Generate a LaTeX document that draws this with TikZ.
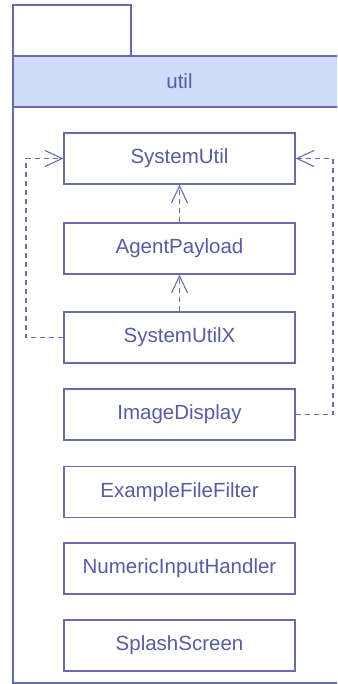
\documentclass[tikz,border=0pt]{standalone}
\usepackage{fontspec}
\setmainfont{Liberation Sans}
\usetikzlibrary{arrows.meta}
\definecolor{umlline}{RGB}{104,108,170}
\definecolor{umltext}{RGB}{88,92,160}
\definecolor{hdrfill}{RGB}{207,220,250}
\tikzset{
  cls/.style={draw=umlline, line width=1.3pt, fill=white, minimum width=231pt, minimum height=51pt, inner sep=0pt, text=umltext, font=\fontsize{20.5}{22}\selectfont},
  dep/.style={draw=umlline, line width=1.1pt, dash pattern=on 5pt off 4pt, -{Straight Barb[length=17pt,width=16pt,line width=1.1pt]}},
  frame/.style={draw=umlline, line width=1.3pt}
}
\begin{document}
\begin{tikzpicture}[x=1pt,y=-1pt]
\useasboundingbox (0,0) rectangle (337,684);
\clip (0,0) rectangle (337,684);
% package frame
\draw[frame] (13,107) rectangle (345,683);
\draw[frame, fill=white] (13,5) rectangle (131,56);
\draw[frame, fill=hdrfill] (13,56) rectangle (345,107);
\node[text=umltext, font=\fontsize{20.5}{22}\selectfont] (pkg) at (179.5,81.5) {util};
% classes
\node[cls] (su)  at (179.5,158.5) {SystemUtil};
\node[cls] (ap)  at (179.5,248.5) {AgentPayload};
\node[cls] (sux) at (179.5,337.5) {SystemUtilX};
\node[cls] (id)  at (179.5,414.5) {ImageDisplay};
\node[cls] (eff) at (179.5,492) {ExampleFileFilter};
\node[cls] (nih) at (179.5,568.5) {NumericInputHandler};
\node[cls] (ss)  at (179.5,645.5) {SplashScreen};
% dependencies
\draw[dep] (ap.north) -- (su.south);
\draw[dep] (sux.north) -- (ap.south);
\coordinate (l1) at (26,337.5);
\coordinate (l2) at (26,158.5);
\draw[dep] (sux.west) -- (l1) -- (l2) -- (su.west);
\coordinate (r1) at (333,414.5);
\coordinate (r2) at (333,158.5);
\draw[dep] (id.east) -- (r1) -- (r2) -- (su.east);
\end{tikzpicture}
\end{document}
